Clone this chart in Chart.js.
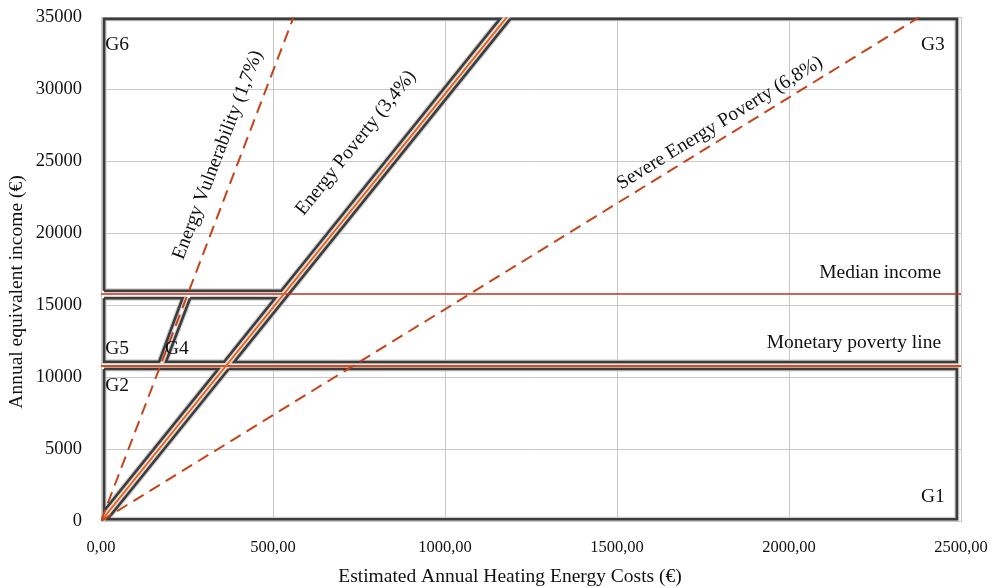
<!DOCTYPE html>
<html>
<head>
<meta charset="utf-8">
<script src="https://cdn.jsdelivr.net/npm/chart.js@4/dist/chart.umd.min.js"></script>
<style>
  html, body { margin: 0; padding: 0; background: #ffffff; }
  #wrap { width: 1004px; height: 588px; }
</style>
</head>
<body>
<div id="wrap"><canvas id="c" width="1004" height="588"></canvas></div>
<script>
// ---- tick labels ----
const xTickLabels = ['0,00', '500,00', '1000,00', '1500,00', '2000,00', '2500,00'];
const yTickLabels = ['0', '5000', '10000', '15000', '20000', '25000', '30000', '35000'];
const xTitle = 'Estimated Annual Heating Energy Costs (€)';
const yTitle = 'Annual equivalent income (€)';

// ---- reference lines (data units: cost €, income €) ----
const medianIncomeLine = [[0, 15770], [2500, 15770]];
const povertyLine = [[0, 10760], [2500, 10760]];
const vulnerabilityLine = [[0, 0], [560, 35000]];
const energyPovertyLine = [[0, 0], [1180, 35000]];
const severePovertyLine = [[0, 0], [2380, 35000]];

// ---- group outlines ----
const g1Outline = [[371, 10556], [2488, 10556], [2488, 120], [19, 120], [371, 10556]];
const g2Outline = [[9, 10556], [341, 10556], [9, 712], [9, 10556]];
const g3Outline = [[1190, 34870], [2488, 34870], [2488, 11040], [387, 11040], [1190, 34870]];
const g4Outline = [[259, 15465], [506, 15465], [358, 11063], [189, 11063], [259, 15465]];
const g5Outline = [[9, 15465], [237, 15465], [169, 11063], [9, 11063], [9, 15465]];
const g6Outline = [[9, 15993], [9, 34870], [1160, 34870], [524, 15993], [9, 15993]];

// ---- texts ----
const groupLabels = [
  { text: 'G1', x: 2453, y: 1667, align: 'right' },
  { text: 'G2', x: 12, y: 9375, align: 'left' },
  { text: 'G3', x: 2453, y: 33055, align: 'right' },
  { text: 'G4', x: 186, y: 11944, align: 'left' },
  { text: 'G5', x: 12, y: 11944, align: 'left' },
  { text: 'G6', x: 12, y: 33055, align: 'left' }
];
const lineTexts = [
  { text: 'Median income', x: 2442, y: 17222, align: 'right', line: null },
  { text: 'Monetary poverty line', x: 2442, y: 12361, align: 'right', line: null },
  { text: 'Energy Vulnerability (1,7%)', x: 340, y: 25417, align: 'center', line: vulnerabilityLine },
  { text: 'Energy Poverty (3,4%)', x: 741, y: 26250, align: 'center', line: energyPovertyLine },
  { text: 'Severe Energy Poverty (6,8%)', x: 1799, y: 27639, align: 'center', line: severePovertyLine }
];

const toPts = arr => arr.map(p => ({ x: p[0], y: p[1] }));
const FONT = "'Liberation Serif', 'Times New Roman', serif";
const DARK = '#3c3c3c';
const FRINGE = '#cfcfcf';

const outlines = [g1Outline, g2Outline, g3Outline, g4Outline, g5Outline, g6Outline];
const datasets = [];

// reference lines on top (order 0)
datasets.push({ data: toPts(vulnerabilityLine), borderColor: '#c4441a', borderWidth: 2, borderDash: [12, 7], order: 0 });
datasets.push({ data: toPts(severePovertyLine), borderColor: '#c4441a', borderWidth: 2, borderDash: [12, 7], order: 0 });
datasets.push({ data: toPts(energyPovertyLine), borderColor: '#e8641e', borderWidth: 2, order: 0 });
datasets.push({ data: toPts(medianIncomeLine), borderColor: '#c0301c', borderWidth: 1.5, order: 0 });
datasets.push({ data: toPts(povertyLine), borderColor: '#d84a1c', borderWidth: 2, order: 0 });
// dark outlines
outlines.forEach(o => datasets.push({ data: toPts(o), borderColor: DARK, borderWidth: 2.6, order: 1 }));
// soft fringe under outlines
outlines.forEach(o => datasets.push({ data: toPts(o), borderColor: FRINGE, borderWidth: 5, order: 2 }));

datasets.forEach(d => {
  d.showLine = true; d.pointRadius = 0; d.pointHoverRadius = 0; d.fill = false; d.tension = 0;
  d.borderJoinStyle = 'miter'; d.borderCapStyle = 'butt';
});

const textPlugin = {
  id: 'texts',
  afterDatasetsDraw(chart) {
    const ctx = chart.ctx;
    const xs = chart.scales.x, ys = chart.scales.y;
    const ca = chart.chartArea;
    ctx.save();
    ctx.fillStyle = '#111';
    ctx.textBaseline = 'middle';
    ctx.font = '19.5px ' + FONT;
    groupLabels.forEach(l => {
      ctx.textAlign = l.align;
      ctx.fillText(l.text, xs.getPixelForValue(l.x), ys.getPixelForValue(l.y));
    });
    lineTexts.forEach(l => {
      const px = xs.getPixelForValue(l.x), py = ys.getPixelForValue(l.y);
      ctx.save();
      ctx.translate(px, py);
      if (l.line) {
        const x1 = xs.getPixelForValue(l.line[0][0]), y1 = ys.getPixelForValue(l.line[0][1]);
        const x2 = xs.getPixelForValue(l.line[1][0]), y2 = ys.getPixelForValue(l.line[1][1]);
        ctx.rotate(Math.atan2(y2 - y1, x2 - x1));
      }
      ctx.textAlign = l.align;
      ctx.fillText(l.text, 0, 0);
      ctx.restore();
    });
    // axis titles (offset from centre as in the reference)
    ctx.textAlign = 'center';
    ctx.font = '19.5px ' + FONT;
    ctx.fillText(xTitle, (ca.left + ca.right) / 2 - 21, chart.height - 11);
    ctx.save();
    ctx.translate(17, (ca.top + ca.bottom) / 2 + 23);
    ctx.rotate(-Math.PI / 2);
    ctx.fillText(yTitle, 0, 0);
    ctx.restore();
    ctx.restore();
  }
};

new Chart(document.getElementById('c'), {
  type: 'scatter',
  data: { datasets },
  options: {
    responsive: false,
    devicePixelRatio: 1,
    animation: false,
    events: [],
    layout: { padding: { top: 17, right: 43, left: 0, bottom: 0 } },
    plugins: { legend: { display: false }, tooltip: { enabled: false } },
    scales: {
      x: {
        type: 'linear', min: 0, max: 2500,
        afterFit: s => { s.height = 67; s.paddingLeft = 0; s.paddingRight = 0; },
        ticks: {
          stepSize: 500, padding: 17, color: '#111', maxRotation: 0,
          font: { family: FONT, size: 16.5 },
          callback: v => xTickLabels[Math.round(v / 500)]
        },
        grid: { color: '#c8c8c8', lineWidth: 1, drawTicks: false },
        border: { color: '#c8c8c8' },
        title: { display: false }
      },
      y: {
        type: 'linear', min: 0, max: 35000,
        afterFit: s => { s.width = 101; s.paddingTop = 0; s.paddingBottom = 0; },
        ticks: {
          stepSize: 5000, padding: 19, color: '#111',
          font: { family: FONT, size: 18.5 },
          callback: v => yTickLabels[Math.round(v / 5000)]
        },
        grid: { color: '#c8c8c8', lineWidth: 1, drawTicks: false },
        border: { color: '#c8c8c8' },
        title: { display: false }
      }
    }
  },
  plugins: [textPlugin]
});
</script>
</body>
</html>
